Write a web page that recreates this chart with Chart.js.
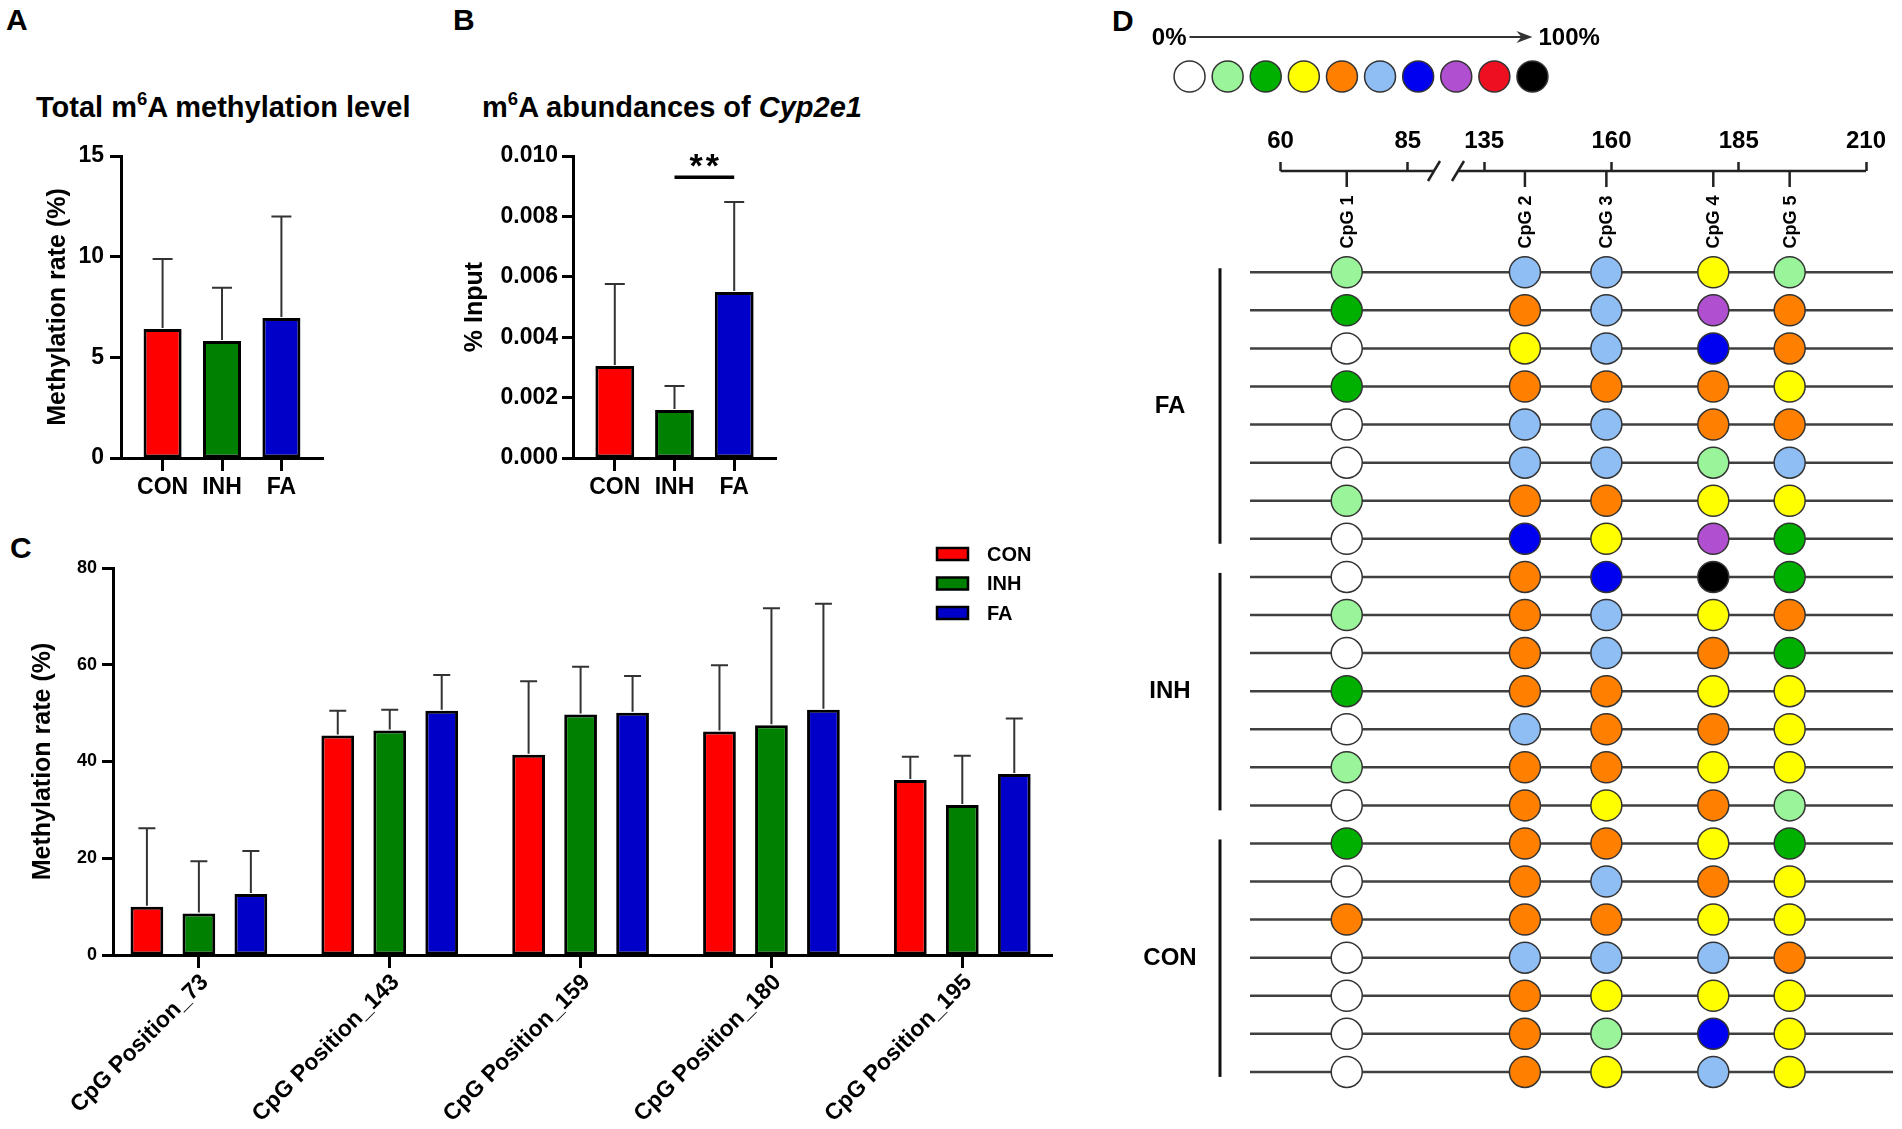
<!DOCTYPE html>
<html><head><meta charset="utf-8">
<script src="https://cdn.jsdelivr.net/npm/chart.js@4.4.1/dist/chart.umd.min.js"></script>
<style>
html,body{margin:0;padding:0;background:#fff;}
#page{position:relative;width:1902px;height:1129px;overflow:hidden;font-family:'Liberation Sans',Arial,Helvetica,sans-serif;color:#000;background:#fff;}
canvas{position:absolute;}
.lbl{position:absolute;font-weight:bold;white-space:nowrap;line-height:1;}
.sup{font-size:0.64em;position:relative;top:-0.6em;}
</style></head><body><div id="page">
<div class="lbl" style="left:6px;top:5px;font-size:30px">A</div>
<div class="lbl" style="left:453px;top:5px;font-size:30px">B</div>
<div class="lbl" style="left:10px;top:533px;font-size:30px">C</div>
<div class="lbl" style="left:1112px;top:6px;font-size:30px">D</div>
<div class="lbl" style="left:36px;top:92.5px;font-size:29px">Total m<span class="sup">6</span>A methylation level</div>
<div class="lbl" style="left:482px;top:92.5px;font-size:29px">m<span class="sup">6</span>A abundances of <i>Cyp2e1</i></div>
<canvas id="cA" width="380" height="400" style="left:0;top:120px"></canvas>
<canvas id="cB" width="380" height="400" style="left:440px;top:120px"></canvas>
<canvas id="cC" width="1080" height="609" style="left:0;top:520px"></canvas>
<canvas id="cKey" width="500" height="110" style="left:1150px;top:0"></canvas>
<canvas id="cD" width="802" height="1019" style="left:1100px;top:110px"></canvas>
</div>
<script>
// ---------------- data ----------------
const groups = ['CON', 'INH', 'FA'];
const groupColors = ['#FF0000', '#008000', '#0000C8'];

// Panel A: total m6A methylation level (%)
const totalMeans = [6.41, 5.81, 6.95];
const totalErrors = [3.48, 2.64, 5.05];

// Panel B: m6A abundances of Cyp2e1 (% input)
const cypMeans = [0.00305, 0.00159, 0.00550];
const cypErrors = [0.00271, 0.00079, 0.00298];

// Panel C: methylation rate per CpG position (%)
const cpgPositions = [73, 143, 159, 180, 195];
const cpgCategories = cpgPositions.map(p => 'CpG Position_' + p);
const conRates = [10.0, 45.4, 41.4, 46.2, 36.2];
const conErrors = [16.2, 5.1, 15.2, 13.7, 4.8];
const inhRates = [8.6, 46.4, 49.7, 47.5, 31.0];
const inhErrors = [10.8, 4.3, 9.9, 24.2, 10.2];
const faRates = [12.6, 50.5, 50.1, 50.7, 37.4];
const faErrors = [8.9, 7.4, 7.6, 21.9, 11.5];

// Panel D: methylation level class (0 = 0% ... 9 = 100%) per clone and CpG site
const levelColors = ['#FFFFFF', '#9AF59A', '#00B000', '#FFFF00', '#FF8000', '#8FBEF5', '#0000F0', '#B050D0', '#EE1020', '#000000'];
const cpgNames = ['CpG 1', 'CpG 2', 'CpG 3', 'CpG 4', 'CpG 5'];
const axisTickLabels = [60, 85, 135, 160, 185, 210];
const faLevels = [
  [1, 5, 5, 3, 1],
  [2, 4, 5, 7, 4],
  [0, 3, 5, 6, 4],
  [2, 4, 4, 4, 3],
  [0, 5, 5, 4, 4],
  [0, 5, 5, 1, 5],
  [1, 4, 4, 3, 3],
  [0, 6, 3, 7, 2]
];
const inhLevels = [
  [0, 4, 6, 9, 2],
  [1, 4, 5, 3, 4],
  [0, 4, 5, 4, 2],
  [2, 4, 4, 3, 3],
  [0, 5, 4, 4, 3],
  [1, 4, 4, 3, 3],
  [0, 4, 3, 4, 1]
];
const conLevels = [
  [2, 4, 4, 3, 2],
  [0, 4, 5, 4, 3],
  [4, 4, 4, 3, 3],
  [0, 5, 5, 5, 4],
  [0, 4, 3, 3, 3],
  [0, 4, 1, 6, 3],
  [0, 4, 3, 5, 3]
];
const cloneGroups = [['FA', faLevels], ['INH', inhLevels], ['CON', conLevels]];

// broken position axis (85 -> 135 compressed)
const breakStart = 85, breakEnd = 135, breakSpan = 15;
const toAxis = p => p <= breakStart ? p : p - (breakEnd - breakStart) + breakSpan;

// ---------------- setup ----------------
const FONT = "'Liberation Sans', Arial, Helvetica, sans-serif";
Chart.defaults.font.family = FONT;
Chart.defaults.color = '#000';
Chart.defaults.animation = false;
Chart.defaults.events = [];
Chart.defaults.plugins.legend.display = false;
Chart.defaults.plugins.tooltip.enabled = false;

const errorBars = {
  id: 'errorBars',
  afterDatasetsDraw(chart, args, o) {
    const {ctx} = chart; const y = chart.scales.y;
    chart.data.datasets.forEach((ds, di) => {
      const meta = chart.getDatasetMeta(di);
      meta.data.forEach((bar, i) => {
        const v = meta.controller.getParsed(i).y;
        const top = y.getPixelForValue(v + ds.errors[i]);
        ctx.save();
        ctx.strokeStyle = o.color; ctx.lineWidth = o.width;
        ctx.beginPath();
        ctx.moveTo(bar.x, bar.y - 1); ctx.lineTo(bar.x, top);
        ctx.moveTo(bar.x - o.cap / 2, top); ctx.lineTo(bar.x + o.cap / 2, top);
        ctx.stroke(); ctx.restore();
      });
    });
  }
};

function catAxis(labels, min, max, fontSize, tickLen, pad, height, rot, shift) {
  return {
    type: 'linear', min, max, offset: false,
    afterBuildTicks: s => { s.ticks = labels.map((_, i) => ({value: i + 1})); },
    ticks: {callback: (v, i) => labels[i], font: {size: fontSize, weight: 'bold'}, color: '#000',
            padding: pad, autoSkip: false, maxRotation: rot, minRotation: rot, labelOffset: shift || 0},
    grid: {offset: false, drawOnChartArea: false, drawTicks: true, tickLength: tickLen, tickWidth: 3, tickColor: '#000'},
    border: {display: true, width: 3, color: '#000'},
    afterFit: s => { s.height = height; }
  };
}
function valAxis(min, max, step, fmt, fontSize, pad, title, titleOff, width) {
  return {
    min, max,
    ticks: {stepSize: step, callback: fmt, font: {size: fontSize, weight: 'bold'}, color: '#000', padding: pad},
    grid: {drawOnChartArea: false, drawTicks: true, tickLength: 11, tickWidth: 3, tickColor: '#000'},
    border: {display: true, width: 3, color: '#000'},
    title: {display: true, text: title, color: '#000', font: {size: 25, weight: 'bold', lineHeight: 1}, padding: {top: titleOff, bottom: 0}},
    afterFit: s => { s.width = width; }
  };
}
const pts = arr => arr.map((v, i) => ({x: i + 1, y: v}));

// ---------------- Panel A ----------------
new Chart(document.getElementById('cA'), {
  type: 'bar',
  data: {datasets: [{data: pts(totalMeans), errors: totalErrors, backgroundColor: groupColors,
    borderColor: '#000', borderWidth: 3, borderSkipped: false, barPercentage: 0.64, categoryPercentage: 1}]},
  options: {
    responsive: false, maintainAspectRatio: false,
    layout: {padding: {left: 0, top: 36, right: 57, bottom: 0}},
    scales: {
      x: catAxis(groups, 0.3, 3.7, 23, 13, 3, 62, 0),
      y: valAxis(0, 15, 5, v => v, 23, 6, 'Methylation rate (%)', 45.5, 121)
    },
    plugins: {errorBars: {color: '#333', width: 2, cap: 20}}
  },
  plugins: [errorBars]
});

// ---------------- Panel B ----------------
const sigBar = {
  id: 'sigBar',
  afterDatasetsDraw(chart, args, o) {
    const {ctx} = chart; const x = chart.scales.x, y = chart.scales.y;
    const x1 = x.getPixelForValue(o.from), x2 = x.getPixelForValue(o.to), yy = y.getPixelForValue(o.level);
    ctx.save();
    ctx.strokeStyle = '#000'; ctx.lineWidth = 3.5;
    ctx.beginPath(); ctx.moveTo(x1, yy); ctx.lineTo(x2, yy); ctx.stroke();
    ctx.fillStyle = '#000'; ctx.font = 'bold 34px ' + FONT; ctx.textAlign = 'center'; ctx.textBaseline = 'alphabetic';
    try { ctx.letterSpacing = '3px'; } catch (e) {}
    ctx.fillText(o.text, (x1 + x2) / 2 + 1.5, yy);
    ctx.restore();
  }
};
new Chart(document.getElementById('cB'), {
  type: 'bar',
  data: {datasets: [{data: pts(cypMeans), errors: cypErrors, backgroundColor: groupColors,
    borderColor: '#000', borderWidth: 3, borderSkipped: false, barPercentage: 0.65, categoryPercentage: 1}]},
  options: {
    responsive: false, maintainAspectRatio: false,
    layout: {padding: {left: 0, top: 36, right: 44, bottom: 0}},
    scales: {
      x: catAxis(groups, 0.3, 3.7, 23, 13, 3, 62, 0),
      y: valAxis(0, 0.01, 0.002, v => v.toFixed(3), 23, 4, '% Input', 22.5, 133)
    },
    plugins: {errorBars: {color: '#333', width: 2, cap: 20}, sigBar: {from: 2, to: 3, level: 0.0093, text: '**'}}
  },
  plugins: [errorBars, sigBar]
});

// ---------------- Panel C ----------------
const barLegend = {
  id: 'barLegend',
  afterDraw(chart, args, o) {
    const {ctx, chartArea: ca} = chart;
    chart.data.datasets.forEach((ds, i) => {
      const x = ca.right - o.offsetRight, yc = ca.top + o.offsetTop + i * o.gap;
      ctx.save();
      ctx.fillStyle = ds.backgroundColor; ctx.fillRect(x, yc - 6, 31, 12);
      ctx.strokeStyle = '#000'; ctx.lineWidth = 2.5; ctx.strokeRect(x, yc - 6, 31, 12);
      ctx.fillStyle = '#000'; ctx.font = 'bold 20px ' + FONT; ctx.textAlign = 'left'; ctx.textBaseline = 'middle';
      ctx.fillText(ds.label, x + 50, yc + 1);
      ctx.restore();
    });
  }
};
const cSeries = [[conRates, conErrors], [inhRates, inhErrors], [faRates, faErrors]];
new Chart(document.getElementById('cC'), {
  type: 'bar',
  data: {datasets: cSeries.map(([m, e], i) => ({label: groups[i], data: pts(m), errors: e,
    backgroundColor: groupColors[i], borderColor: '#000', borderWidth: 3, borderSkipped: false,
    barPercentage: 0.63, categoryPercentage: 0.817}))},
  options: {
    responsive: false, maintainAspectRatio: false,
    layout: {padding: {left: 0, top: 48, right: 28, bottom: 0}},
    scales: {
      x: catAxis(cpgCategories, 0.55, 5.47, 23, 13, 1, 174, 45, 6),
      y: valAxis(0, 80, 20, v => v, 18, 5, 'Methylation rate (%)', 30.5, 113)
    },
    plugins: {errorBars: {color: '#333', width: 2, cap: 17}, barLegend: {offsetRight: 115, offsetTop: -14, gap: 29.5}}
  },
  plugins: [errorBars, barLegend]
});

// ---------------- Panel D colour key ----------------
const keyArrow = {
  id: 'keyArrow',
  afterDraw(chart) {
    const {ctx, chartArea: ca, scales: {x}} = chart;
    const x0 = x.getPixelForValue(0), x1 = x.getPixelForValue(levelColors.length - 1), yy = ca.top - 23;
    ctx.save();
    ctx.strokeStyle = '#333'; ctx.fillStyle = '#333'; ctx.lineWidth = 2;
    ctx.beginPath(); ctx.moveTo(x0, yy); ctx.lineTo(x1 - 8, yy); ctx.stroke();
    ctx.beginPath(); ctx.moveTo(x1, yy); ctx.lineTo(x1 - 16, yy - 6); ctx.lineTo(x1 - 11, yy); ctx.lineTo(x1 - 16, yy + 6); ctx.closePath(); ctx.fill();
    ctx.fillStyle = '#000'; ctx.font = 'bold 24px ' + FONT; ctx.textBaseline = 'middle';
    ctx.textAlign = 'right'; ctx.fillText('0%', x0 - 3, yy + 1);
    ctx.textAlign = 'left'; ctx.fillText('100%', x1 + 6, yy + 1);
    ctx.restore();
  }
};
new Chart(document.getElementById('cKey'), {
  type: 'scatter',
  data: {datasets: [{data: levelColors.map((c, k) => ({x: k, y: 0})), pointBackgroundColor: levelColors,
    pointBorderColor: '#333', pointBorderWidth: 1.5, pointRadius: 15.5, clip: false}]},
  options: {
    responsive: false, maintainAspectRatio: false,
    layout: {padding: {left: 20.5, top: 60, right: 98.5, bottom: 8}},
    scales: {x: {type: 'linear', min: -0.5, max: 9.5, display: false}, y: {min: -1, max: 1, display: false}}
  },
  plugins: [keyArrow]
});

// ---------------- Panel D clones ----------------
const xMinD = 54, xMaxD = 180.3;
const methylAxis = {
  id: 'methylAxis',
  afterDraw(chart) {
    const {ctx, chartArea: ca, scales: {x, y}} = chart;
    const top = ca.top;
    const line = (a, b, c, d) => { ctx.beginPath(); ctx.moveTo(a, b); ctx.lineTo(c, d); ctx.stroke(); };
    ctx.save();
    ctx.strokeStyle = '#222'; ctx.lineWidth = 2.5;
    const xa = x.getPixelForValue(toAxis(axisTickLabels[0]));
    const xb = x.getPixelForValue(toAxis(axisTickLabels[axisTickLabels.length - 1]));
    const mid = (x.getPixelForValue(toAxis(breakStart)) + x.getPixelForValue(toAxis(breakEnd))) / 2;
    const s1 = mid - 12, s2 = mid + 12;
    line(xa, top, s1, top); line(s2, top, xb, top);
    line(s1 - 6, top + 10, s1 + 6, top - 10); line(s2 - 6, top + 10, s2 + 6, top - 10);
    ctx.fillStyle = '#000'; ctx.font = 'bold 18px ' + FONT; ctx.textAlign = 'center'; ctx.textBaseline = 'middle';
    cpgPositions.forEach((p, k) => {
      const px = x.getPixelForValue(toAxis(p));
      line(px, top, px, top + 16);
      ctx.save(); ctx.translate(px, top + 51); ctx.rotate(-Math.PI / 2); ctx.fillText(cpgNames[k], 0, 1); ctx.restore();
    });
    ctx.strokeStyle = '#111'; ctx.lineWidth = 3; ctx.font = 'bold 24px ' + FONT;
    let start = 0;
    cloneGroups.forEach(([name, rows]) => {
      const end = start + rows.length - 1;
      const y0 = y.getPixelForValue(start) - 4, y1 = y.getPixelForValue(end) + 5;
      line(ca.left - 30, y0, ca.left - 30, y1);
      ctx.fillText(name, ca.left - 80, (y0 + y1) / 2);
      start = end + 1;
    });
    ctx.restore();
  }
};
const allRows = cloneGroups.flatMap(([, rows]) => rows);
new Chart(document.getElementById('cD'), {
  type: 'scatter',
  data: {datasets: allRows.map((levels, r) => ({
    data: [{x: xMinD, y: r}, ...cpgPositions.map(p => ({x: toAxis(p), y: r})), {x: xMaxD, y: r}],
    showLine: true, borderColor: '#404040', borderWidth: 2.5, tension: 0, fill: false, clip: false,
    pointRadius: [0, ...levels.map(() => 15.5), 0],
    pointBackgroundColor: ['rgba(0,0,0,0)', ...levels.map(l => levelColors[l]), 'rgba(0,0,0,0)'],
    pointBorderColor: '#333', pointBorderWidth: 1.5
  }))},
  options: {
    responsive: false, maintainAspectRatio: false,
    layout: {padding: {left: 150, top: 0, right: 9, bottom: 19}},
    scales: {
      x: {type: 'linear', position: 'top', min: xMinD, max: xMaxD,
          afterBuildTicks: s => { s.ticks = axisTickLabels.map(v => ({value: toAxis(v)})); },
          ticks: {callback: (v, i) => axisTickLabels[i], font: {size: 24, weight: 'bold'}, color: '#000', padding: 6, autoSkip: false, maxRotation: 0},
          grid: {drawOnChartArea: false, drawTicks: true, tickLength: 9, tickWidth: 2.5, tickColor: '#222'},
          border: {display: false},
          afterFit: s => { s.height = 61; }},
      y: {min: -2.66, max: 22, reverse: true, display: false}
    }
  },
  plugins: [methylAxis]
});
</script>
</body></html>
